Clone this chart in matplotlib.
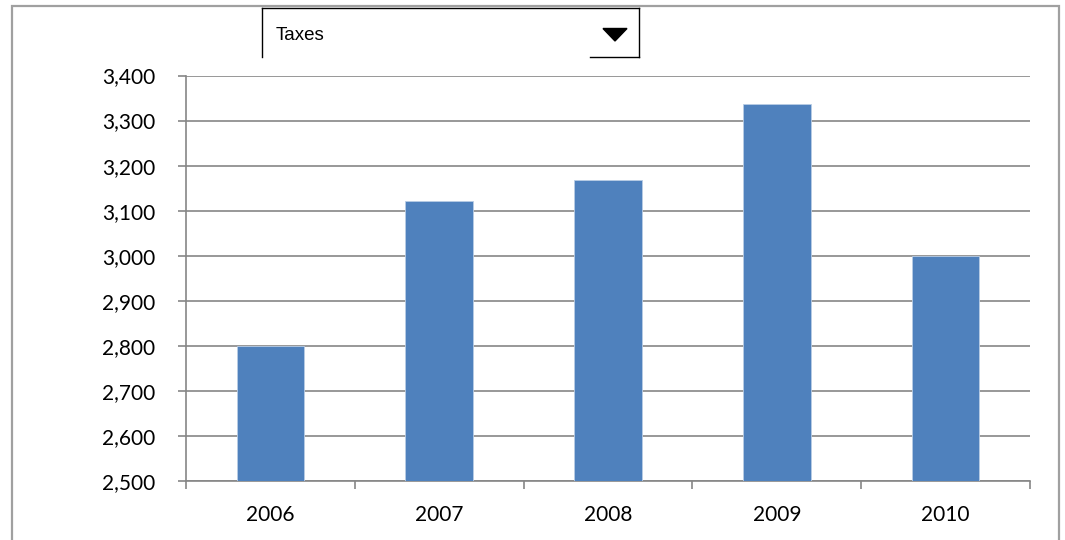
import matplotlib
matplotlib.use("Agg")
import matplotlib.pyplot as plt
import matplotlib.ticker as mticker
from matplotlib.lines import Line2D
from matplotlib.patches import Rectangle, Polygon

years  = ["2006", "2007", "2008", "2009", "2010"]
values = [2800, 3122, 3167, 3337, 3000]
y_ticks = list(range(2500, 3401, 100))
selector_label = "Taxes"

W, H = 1065, 540
BAR_COLOR  = "#4F81BD"
GRID_COLOR = "#868686"


def fx(x):
    return x / W


def fy(y):
    return 1 - y / H


def main():
    fig = plt.figure(figsize=(W / 100, H / 100), dpi=100)
    fig.patch.set_facecolor("white")

    # outer chart frame
    fig.patches.append(Rectangle((fx(12), fy(545)), fx(1059) - fx(12), fy(6) - fy(545),
                                 transform=fig.transFigure, fill=False,
                                 edgecolor="#a0a0a0", linewidth=1.6))

    left, right, top, bottom = 186, 1030, 75.5, 481
    ax = fig.add_axes([fx(left), fy(bottom), fx(right) - fx(left), fy(top) - fy(bottom)])

    x = range(len(years))
    ax.bar(x, values, width=0.4, color=BAR_COLOR, edgecolor="#b9cde5",
           linewidth=0.6, zorder=3)

    ax.set_xlim(-0.5, len(years) - 0.5)
    ax.set_ylim(y_ticks[0], y_ticks[-1])
    ax.set_yticks(y_ticks)
    ax.yaxis.set_major_formatter(mticker.StrMethodFormatter("{x:,.0f}"))
    ax.set_xticks(list(x))
    ax.set_xticklabels(years)
    ax.set_xticks([i - 0.5 for i in range(len(years) + 1)], minor=True)

    ax.grid(axis="y", color=GRID_COLOR, linewidth=1.2, zorder=0)
    for s in ["top", "right"]:
        ax.spines[s].set_visible(False)
    for s in ["left", "bottom"]:
        ax.spines[s].set_color(GRID_COLOR)
        ax.spines[s].set_linewidth(1.2)

    ax.tick_params(axis="y", length=6, width=1.2, color=GRID_COLOR, pad=16,
                   labelsize=15, labelcolor="black")
    ax.tick_params(axis="x", which="major", length=0, pad=17,
                   labelsize=15, labelcolor="black")
    ax.tick_params(axis="x", which="minor", length=6, width=1.2, color=GRID_COLOR)
    for lbl in ax.get_xticklabels() + ax.get_yticklabels():
        lbl.set_family(["Lato", "DejaVu Sans"])

    # dropdown selector
    sel = [
        ((262, 262), (8, 57)),
        ((262, 639), (8, 8)),
        ((639, 639), (8, 57)),
        ((590, 639), (57, 57)),
    ]
    for xs, ys in sel:
        fig.lines.append(Line2D([fx(v) for v in xs], [fy(v) for v in ys],
                                transform=fig.transFigure, color="black",
                                linewidth=1.0))
    fig.text(fx(276), fy(35), selector_label, fontsize=13.5,
             family=["Liberation Sans", "DejaVu Sans"], va="center", ha="left")
    tri = Polygon([(fx(603), fy(28.5)), (fx(627), fy(28.5)), (fx(615), fy(41))],
                  closed=True, transform=fig.transFigure, facecolor="black",
                  edgecolor="black")
    fig.patches.append(tri)

    fig.savefig("out.png", dpi=100)


if __name__ == "__main__":
    main()
